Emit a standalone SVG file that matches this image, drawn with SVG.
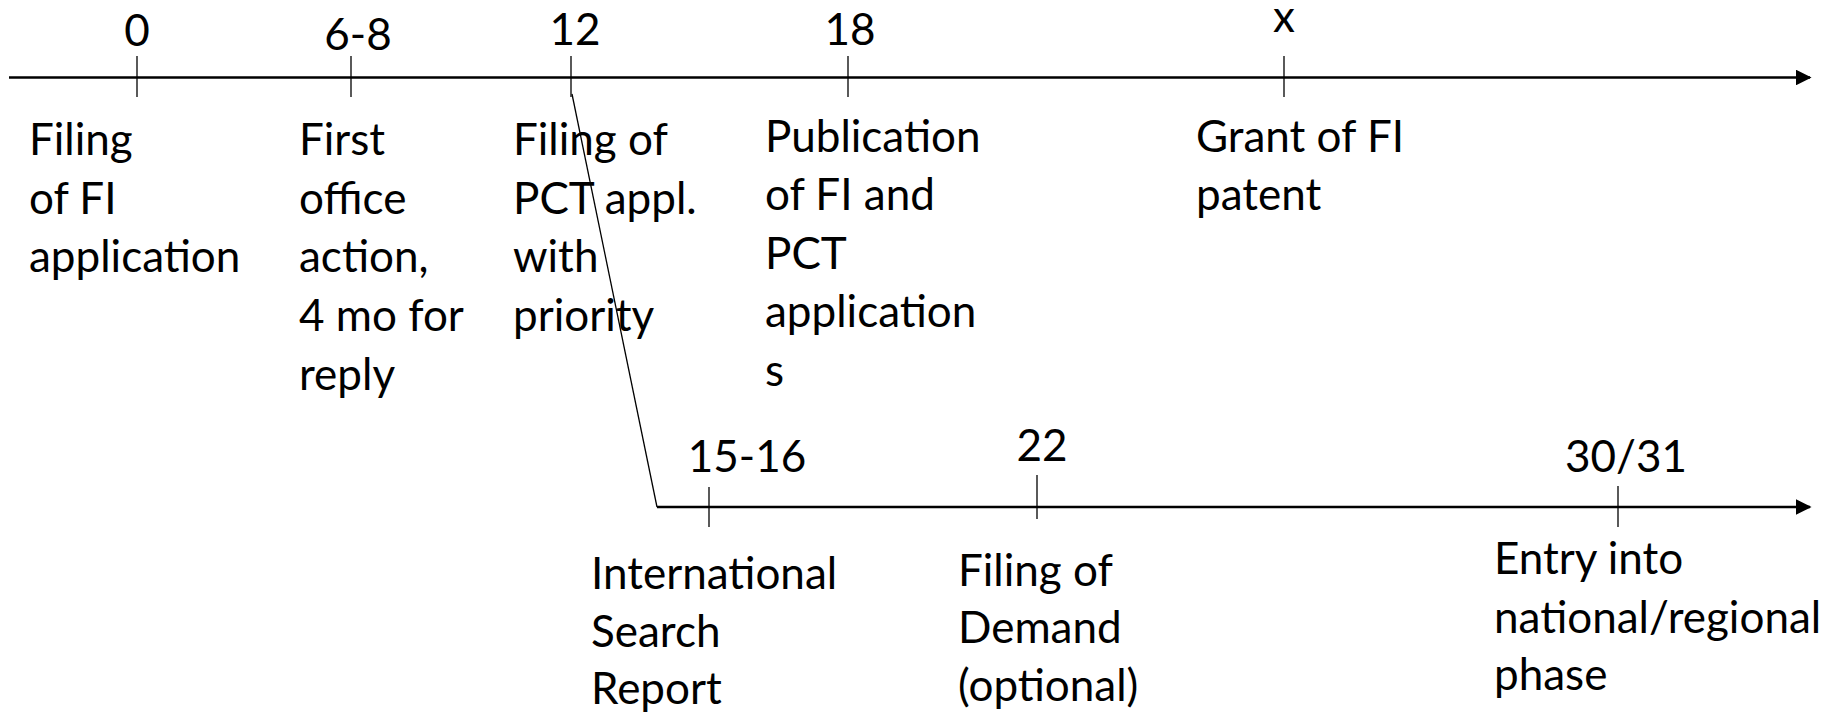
<svg xmlns="http://www.w3.org/2000/svg" width="1841" height="712" viewBox="0 0 1841 712">
<style>
text{font-family:Lato,"Liberation Sans",sans-serif;font-size:44px;fill:#000}
.num{text-anchor:middle}
.axis{stroke:#000;stroke-width:2.6;fill:none}
.tick{stroke:#000;stroke-width:1.3}
</style>
<defs>
<marker id="arr" viewBox="0 0 10 10" refX="9" refY="5" markerWidth="6" markerHeight="6" markerUnits="strokeWidth" orient="auto">
<path d="M0,0 L10,5 L0,10 z" fill="#000"/>
</marker>
</defs>
<rect width="1841" height="712" fill="#fff"/>
<g id="connectors">
<line class="axis" x1="9" y1="77.5" x2="1810" y2="77.5" marker-end="url(#arr)"/>
<line class="axis" x1="657" y1="507" x2="1810" y2="507" marker-end="url(#arr)"/>
<line x1="572" y1="94" x2="657" y2="507" stroke="#000" stroke-width="1.3"/>
</g>
<g id="m0"><line class="tick" x1="137" y1="56" x2="137" y2="97"/><text class="num" x="137" y="46">0</text>
<text x="29" y="155">Filing</text><text x="29" y="214">of FI</text><text x="29" y="272">application</text></g>
<g id="m6"><line class="tick" x1="351" y1="56" x2="351" y2="97"/><text class="num" x="358" y="50">6-8</text>
<text x="299" y="155">First</text><text x="299" y="214">office</text><text x="299" y="272">action,</text><text x="299" y="331">4 mo for</text><text x="299" y="390">reply</text></g>
<g id="m12"><line class="tick" x1="571" y1="56" x2="571" y2="97"/><text class="num" x="575" y="45">12</text>
<text x="513" y="155">Filing of</text><text x="513" y="214">PCT appl.</text><text x="513" y="272">with</text><text x="513" y="331">priority</text></g>
<g id="m18"><line class="tick" x1="848" y1="56" x2="848" y2="97"/><text class="num" x="850" y="45">18</text>
<text x="765" y="152">Publication</text><text x="765" y="210">of FI and</text><text x="765" y="269">PCT</text><text x="765" y="327">application</text><text x="765" y="386">s</text></g>
<g id="mx"><line class="tick" x1="1284" y1="56" x2="1284" y2="97"/><text class="num" x="1284" y="32">x</text>
<text x="1196" y="152">Grant of FI</text><text x="1196" y="210">patent</text></g>
<g id="m15"><line class="tick" x1="709" y1="487" x2="709" y2="527"/><text class="num" x="747" y="472">15-16</text>
<text x="591" y="589">International</text><text x="591" y="647">Search</text><text x="591" y="704">Report</text></g>
<g id="m22"><line class="tick" x1="1037" y1="475" x2="1037" y2="519"/><text class="num" x="1042" y="461">22</text>
<text x="958" y="586">Filing of</text><text x="958" y="643">Demand</text><text x="958" y="701">(optional)</text></g>
<g id="m30"><line class="tick" x1="1618" y1="486" x2="1618" y2="527"/><text class="num" x="1626" y="472">30/31</text>
<text x="1494" y="574">Entry into</text><text x="1494" y="633">national/regional</text><text x="1494" y="690">phase</text></g>
</svg>
